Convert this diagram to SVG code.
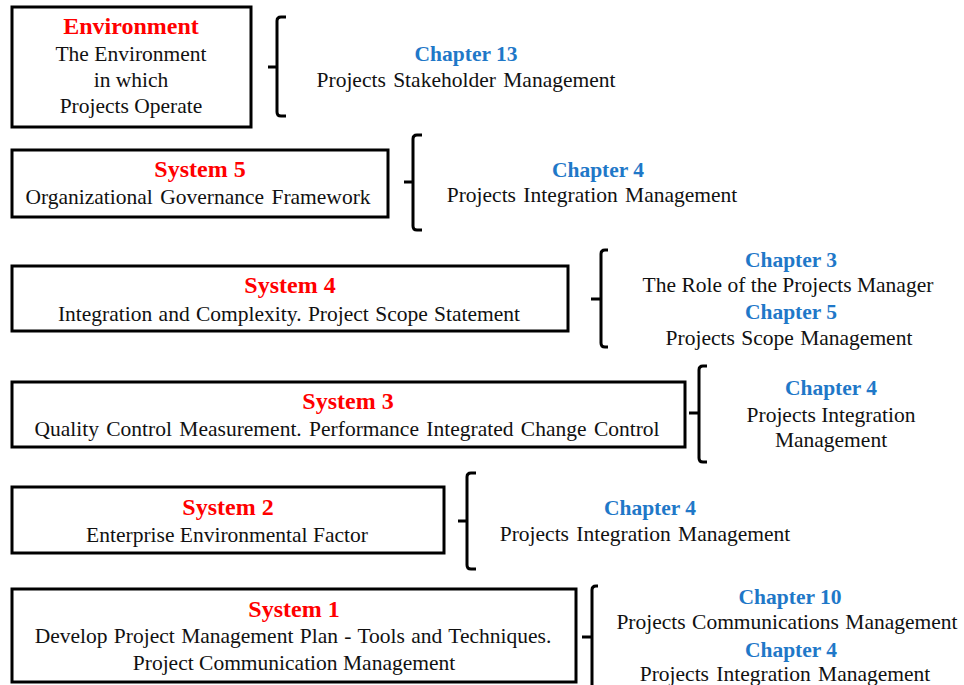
<svg xmlns="http://www.w3.org/2000/svg" width="964" height="685" viewBox="0 0 964 685">
<style>
.box{fill:#fff;stroke:#000;stroke-width:3}
.br{fill:none;stroke:#000;stroke-width:3;stroke-linejoin:round}
text{font-family:"Liberation Serif","Times New Roman",serif;text-anchor:middle}
.t{font-size:24px;font-weight:bold;fill:#f00}
.c{font-size:21.5px;font-weight:bold;fill:#1f78c8}
.b{font-size:21.5px;fill:#111}
</style>
<rect width="964" height="685" fill="#fff"/>
<g id="connectors">
<path class="br" d="M286,17 H281 Q277,17 277,21 V67 M268,67 H277 M277,67 V112 Q277,116 281,116 H286"/>
<path class="br" d="M422,135 H417 Q413,135 413,139 V182 M404,182 H413 M413,182 V226 Q413,230 417,230 H422"/>
<path class="br" d="M608,250 H605 Q601,250 601,254 V299 M591,299 H601 M601,299 V343 Q601,347 605,347 H608"/>
<path class="br" d="M707,366 H703 Q699,366 699,370 V413 M689,413 H699 M699,413 V458 Q699,462 703,462 H707"/>
<path class="br" d="M476,473 H471 Q467,473 467,477 V521 M458,521 H467 M467,521 V565 Q467,569 471,569 H476"/>
<path class="br" d="M598,586 H596 Q592,586 592,590 V637 M582,637 H592 M592,637 V690"/>
</g>
<g id="environment">
<rect class="box" x="12" y="7" width="239" height="120"/>
<text class="t" x="131" y="34">Environment</text>
<text class="b" x="131" y="61">The Environment</text>
<text class="b" x="131" y="87">in which</text>
<text class="b" x="131" y="113">Projects Operate</text>
</g>
<g id="chapter13">
<text class="c" x="466" y="61">Chapter 13</text>
<text class="b" x="466" y="87" word-spacing="2">Projects Stakeholder Management</text>
</g>
<g id="system5">
<rect class="box" x="12" y="150" width="376" height="67"/>
<text class="t" x="200" y="177">System 5</text>
<text class="b" x="198" y="204" word-spacing="2">Organizational Governance Framework</text>
</g>
<g id="chapter4a">
<text class="c" x="598" y="177">Chapter 4</text>
<text class="b" x="592" y="202" word-spacing="2">Projects Integration Management</text>
</g>
<g id="system4">
<rect class="box" x="12" y="266" width="556" height="65"/>
<text class="t" x="290" y="293">System 4</text>
<text class="b" x="289" y="321" word-spacing="1">Integration and Complexity. Project Scope Statement</text>
</g>
<g id="chapter3-5">
<text class="c" x="791" y="267">Chapter 3</text>
<text class="b" x="788" y="292">The Role of the Projects Manager</text>
<text class="c" x="791" y="319">Chapter 5</text>
<text class="b" x="789" y="345" word-spacing="1">Projects Scope Management</text>
</g>
<g id="system3">
<rect class="box" x="12" y="382" width="673" height="65"/>
<text class="t" x="348" y="409">System 3</text>
<text class="b" x="347" y="436" word-spacing="2">Quality Control Measurement. Performance Integrated Change Control</text>
</g>
<g id="chapter4b">
<text class="c" x="831" y="395">Chapter 4</text>
<text class="b" x="831" y="422">Projects Integration</text>
<text class="b" x="831" y="447">Management</text>
</g>
<g id="system2">
<rect class="box" x="12" y="487" width="432" height="66"/>
<text class="t" x="228" y="515">System 2</text>
<text class="b" x="227" y="542">Enterprise Environmental Factor</text>
</g>
<g id="chapter4c">
<text class="c" x="650" y="515">Chapter 4</text>
<text class="b" x="645" y="541" word-spacing="2">Projects Integration Management</text>
</g>
<g id="system1">
<rect class="box" x="12" y="589" width="564" height="93"/>
<text class="t" x="294" y="617">System 1</text>
<text class="b" x="293" y="643" word-spacing="1">Develop Project Management Plan - Tools and Techniques.</text>
<text class="b" x="294" y="670">Project Communication Management</text>
</g>
<g id="chapter10-4">
<text class="c" x="790" y="604">Chapter 10</text>
<text class="b" x="787" y="629" word-spacing="1">Projects Communications Management</text>
<text class="c" x="791" y="657">Chapter 4</text>
<text class="b" x="785" y="681" word-spacing="2">Projects Integration Management</text>
</g>
</svg>
